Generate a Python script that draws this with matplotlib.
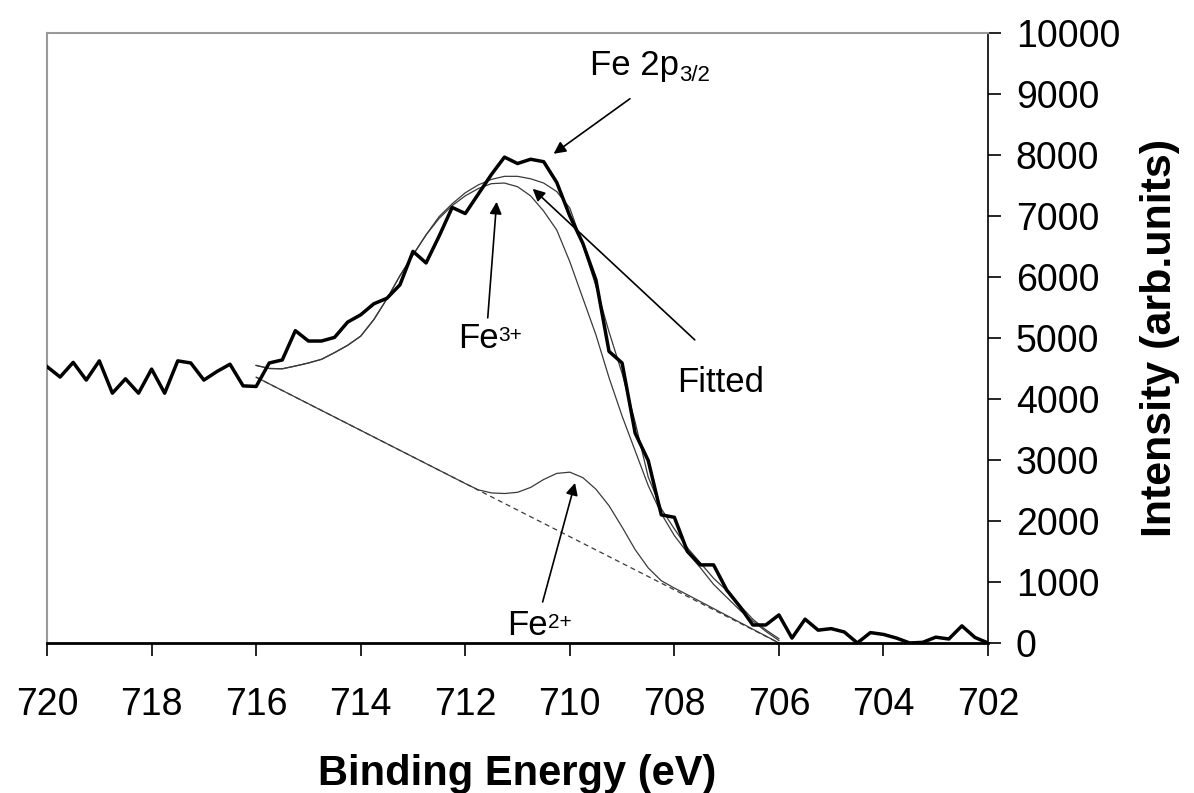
import numpy as np
import matplotlib
matplotlib.use("Agg")
import matplotlib.pyplot as plt

plt.rcParams['font.family'] = ['Liberation Sans', 'DejaVu Sans']

# measured Fe 2p3/2 spectrum, 0.25 eV steps from 720 eV down to 702 eV
energy = np.arange(720.0, 701.9, -0.25)
counts = [4530, 4360, 4600, 4310, 4625, 4095, 4330, 4095, 4490, 4095,
          4625, 4590, 4310, 4450, 4570, 4215, 4205, 4590, 4640, 5120,
          4950, 4950, 5010, 5260, 5380, 5560, 5650, 5870, 6420, 6230,
          6670, 7140, 7040, 7360, 7680, 7965, 7860, 7930, 7890, 7550,
          7000, 6550, 5950, 4780, 4590, 3440, 2990, 2100, 2060, 1500,
          1280, 1280, 870, 600, 295, 295, 460, 80, 390, 210,
          235, 180, 0, 170, 140, 80, 0, 10, 95, 65,
          280, 90, 0]

# fit curves, 716 eV down to 706 eV
fit_energy = np.arange(716.0, 705.9, -0.25)
fitted = [4550, 4500, 4495, 4540, 4590, 4650, 4760, 4880, 5030, 5300,
          5640, 6020, 6360, 6690, 6990, 7200, 7380, 7510, 7600, 7650,
          7650, 7610, 7540, 7400, 7130, 6520, 5850, 5100, 4420, 3620,
          2720, 2200, 1870, 1560, 1310, 1060, 860, 620, 390, 215, 70]
fe3 = [4550, 4500, 4495, 4540, 4590, 4650, 4760, 4880, 5030, 5300,
       5640, 6020, 6360, 6690, 6960, 7170, 7330, 7450, 7530, 7540,
       7480, 7330, 7080, 6770, 6250, 5650, 5050, 4350, 3720, 3150,
       2580, 2120, 1760, 1480, 1230, 960, 750, 540, 360, 190, 40]

fe2_energy = [716.0, 712.0, 711.75, 711.5, 711.25, 711.0, 710.75, 710.5,
              710.25, 710.0, 709.75, 709.5, 709.25, 709.0, 708.75, 708.5,
              708.25, 708.0, 707.75, 706.0]
fe2 = [4357, 2614, 2510, 2460, 2450, 2470, 2550, 2680, 2780, 2800,
       2710, 2520, 2250, 1900, 1530, 1230, 1020, 900, 790, 0]

bg_energy = [716.0, 706.0]
bg = [4357, 0]

x_ticks = [720, 718, 716, 714, 712, 710, 708, 706, 704, 702]
y_ticks = [0, 1000, 2000, 3000, 4000, 5000, 6000, 7000, 8000, 9000, 10000]

fig = plt.figure(figsize=(11.94, 7.93), dpi=100)
ax = fig.add_axes([0.0394, 0.1892, 0.7881, 0.7692])

thin = '#3a3a3a'
ax.plot(bg_energy, bg, color=thin, lw=0.9, ls=(0, (4, 3)))
ax.plot(fe2_energy, fe2, color=thin, lw=0.9)
ax.plot(fit_energy, fe3, color=thin, lw=0.9)
ax.plot(fit_energy, fitted, color=thin, lw=0.9)
ax.plot(energy, counts, color='black', lw=2.5, zorder=5)

ax.set_xlim(720, 702)
ax.set_ylim(0, 10000)
ax.set_xticks(x_ticks)
ax.set_yticks(y_ticks)
ax.yaxis.tick_right()
ax.yaxis.set_label_position('right')
ax.tick_params(axis='both', direction='out', length=9, width=1.2,
               labelsize=27, colors='black')
ax.tick_params(axis='x', pad=23)
ax.tick_params(axis='y', pad=11)
for side in ['left', 'top']:
    ax.spines[side].set_color('#9a9a9a')
    ax.spines[side].set_linewidth(1.5)
ax.spines['right'].set_linewidth(1.2)
ax.spines['bottom'].set_linewidth(2.0)

ax.set_xlabel('Binding Energy (eV)', fontsize=30, fontweight='bold', labelpad=22)
ax.set_ylabel('Intensity (arb.units)', fontsize=31, fontweight='bold', labelpad=14)


def label(x, y, main, small, up):
    t = ax.text(x, y, main, fontsize=25, ha='left', va='baseline')
    if up:
        ax.annotate(small, xy=(1, 1), xycoords=t, xytext=(0, -3),
                    textcoords='offset points', fontsize=15, ha='left', va='top')
    else:
        ax.annotate(small, xy=(1, 0), xycoords=t, xytext=(0, -3),
                    textcoords='offset points', fontsize=16, ha='left', va='bottom')


def arrow(tail, head):
    ax.annotate('', xy=head, xytext=tail,
                arrowprops=dict(arrowstyle='-|>', color='black', lw=1.2,
                                mutation_scale=18, shrinkA=0, shrinkB=0))


label(709.62, 9315, 'Fe 2p', '3/2', False)
label(712.14, 4838, 'Fe', '3+', True)
label(711.19, 131, 'Fe', '2+', True)
ax.text(707.95, 4116, 'Fitted', fontsize=25, ha='left', va='baseline')

arrow((708.85, 8922), (710.31, 8020))
arrow((711.57, 5330), (711.40, 7232))
arrow((707.61, 4969), (710.71, 7446))
arrow((710.52, 672), (709.90, 2624))

fig.savefig('out.png', dpi=100)
